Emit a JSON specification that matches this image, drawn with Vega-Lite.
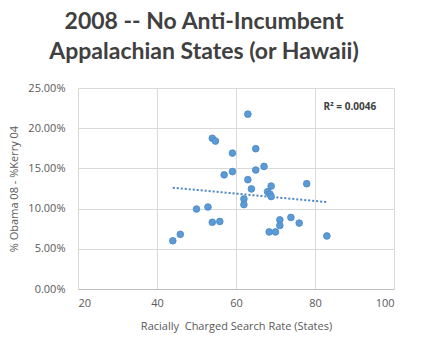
{
  "$schema": "https://vega.github.io/schema/vega-lite/v6.json",
  "width": 316,
  "height": 201,
  "autosize": {"type": "none"},
  "padding": {"left": 78, "top": 88, "right": 32, "bottom": 54},
  "background": "white",
  "title": {
    "text": ["2008 -- No Anti-Incumbent", "Appalachian States (or Hawaii)"],
    "font": "Lato",
    "fontSize": 23,
    "fontWeight": "bold",
    "color": "#404040",
    "anchor": "middle",
    "dx": -32,
    "offset": 18,
    "lineHeight": 30
  },
  "config": {
    "view": {"stroke": null},
    "axis": {
      "labelFont": "Open Sans",
      "titleFont": "Open Sans",
      "labelFontSize": 11,
      "titleFontSize": 11,
      "labelColor": "#595959",
      "titleColor": "#595959",
      "titleFontWeight": "normal",
      "gridColor": "#d9d9d9",
      "gridWidth": 1,
      "ticks": false,
      "domain": false
    }
  },
  "datasets": {
    "pts": [
      {"x": 63.0, "y": 21.75},
      {"x": 54.0, "y": 18.75},
      {"x": 54.8, "y": 18.4},
      {"x": 65.0, "y": 17.45},
      {"x": 59.1, "y": 16.9},
      {"x": 67.1, "y": 15.25},
      {"x": 65.0, "y": 14.8},
      {"x": 59.1, "y": 14.6},
      {"x": 57.0, "y": 14.2},
      {"x": 63.0, "y": 13.6},
      {"x": 77.9, "y": 13.1},
      {"x": 68.9, "y": 12.8},
      {"x": 63.9, "y": 12.45},
      {"x": 68.0, "y": 12.1},
      {"x": 68.6, "y": 11.8},
      {"x": 68.9, "y": 11.5},
      {"x": 62.0, "y": 11.2},
      {"x": 62.0, "y": 10.5},
      {"x": 52.9, "y": 10.2},
      {"x": 50.0, "y": 9.95},
      {"x": 73.9, "y": 8.9},
      {"x": 71.1, "y": 8.6},
      {"x": 55.9, "y": 8.4},
      {"x": 54.0, "y": 8.3},
      {"x": 76.0, "y": 8.2},
      {"x": 71.1, "y": 7.9},
      {"x": 68.4, "y": 7.1},
      {"x": 70.0, "y": 7.1},
      {"x": 45.9, "y": 6.8},
      {"x": 83.0, "y": 6.6},
      {"x": 44.0, "y": 6.0}
    ],
    "trend": [
      {"x": 44.0, "y": 12.6},
      {"x": 83.2, "y": 10.8}
    ],
    "label": [
      {"x": 88.8, "y": 22.6, "t": "R² = 0.0046"}
    ]
  },
  "layer": [
    {
      "data": {"name": "trend"},
      "mark": {"type": "line", "color": "#4a86c5", "strokeDash": [2, 2], "strokeWidth": 2},
      "encoding": {
        "x": {
          "field": "x", "type": "quantitative",
          "scale": {"domain": [20, 100], "nice": false},
          "axis": {"values": [20, 40, 60, 80, 100], "title": "Racially\u00a0 Charged Search Rate (States)", "titlePadding": 12, "labelPadding": 8, "domain": true, "domainColor": "#bfbfbf"}
        },
        "y": {
          "field": "y", "type": "quantitative",
          "scale": {"domain": [0, 25], "nice": false},
          "axis": {"values": [0, 5, 10, 15, 20, 25], "labelExpr": "format(datum.value, '.2f') + '%'", "title": "% Obama 08 - %Kerry 04", "titlePadding": 8, "labelPadding": 13}
        }
      }
    },
    {
      "data": {"name": "pts"},
      "mark": {"type": "circle", "size": 45, "color": "#5b9bd5", "opacity": 1, "stroke": "#4a86c5", "strokeWidth": 0.8},
      "encoding": {
        "x": {"field": "x", "type": "quantitative"},
        "y": {"field": "y", "type": "quantitative"}
      }
    },
    {
      "data": {"name": "label"},
      "mark": {"type": "text", "font": "Open Sans", "fontSize": 10, "fontWeight": "bold", "color": "#404040", "align": "center", "baseline": "middle"},
      "encoding": {
        "x": {"field": "x", "type": "quantitative"},
        "y": {"field": "y", "type": "quantitative"},
        "text": {"field": "t"}
      }
    }
  ]
}
